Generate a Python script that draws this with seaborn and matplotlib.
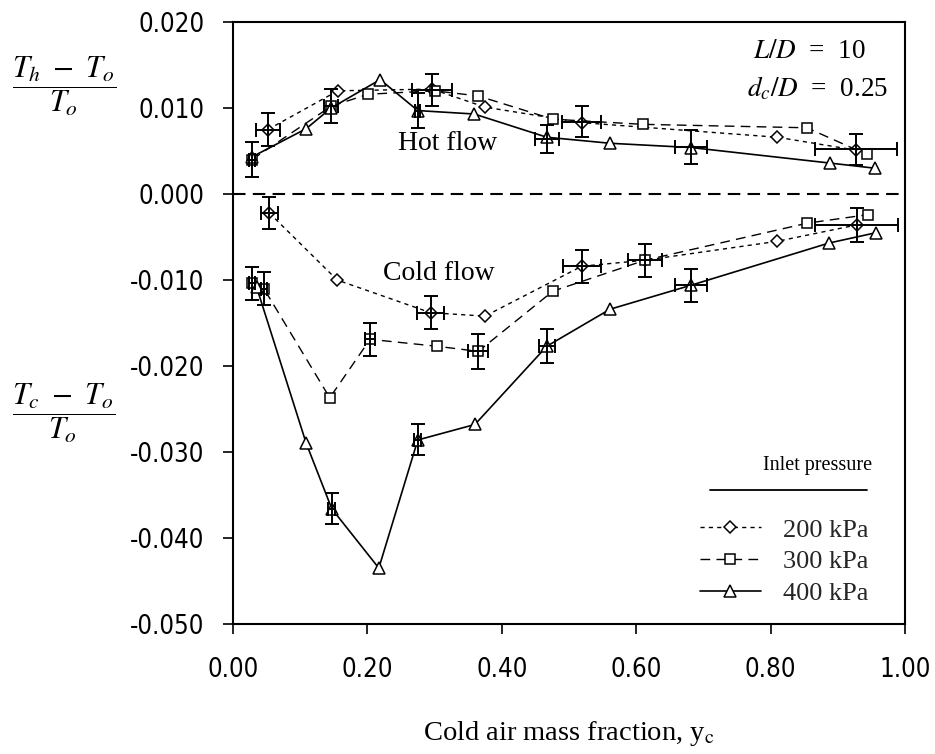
import numpy as np
import pandas as pd
import matplotlib
matplotlib.use("Agg")
import matplotlib.pyplot as plt
import seaborn as sns
from matplotlib.lines import Line2D

# ---------------- data ----------------
pressures = ["200 kPa", "300 kPa", "400 kPa"]

hot_200_x = [0.052, 0.156, 0.296, 0.375, 0.519, 0.810, 0.927]
hot_200_y = [0.0075, 0.0120, 0.0122, 0.0101, 0.0083, 0.0066, 0.0051]
hot_300_x = [0.028, 0.146, 0.201, 0.300, 0.365, 0.476, 0.610, 0.854, 0.943]
hot_300_y = [0.0040, 0.0102, 0.0116, 0.0120, 0.0114, 0.0087, 0.0081, 0.0077, 0.0046]
hot_400_x = [0.028, 0.109, 0.146, 0.219, 0.275, 0.359, 0.467, 0.561, 0.682, 0.888, 0.955]
hot_400_y = [0.0043, 0.0076, 0.0100, 0.0133, 0.0097, 0.0093, 0.0066, 0.0059, 0.0054, 0.0036, 0.0030]

cold_200_x = [0.054, 0.155, 0.294, 0.375, 0.519, 0.613, 0.810, 0.928]
cold_200_y = [-0.0022, -0.0100, -0.0138, -0.0142, -0.0084, -0.0077, -0.0055, -0.0036]
cold_300_x = [0.028, 0.046, 0.144, 0.204, 0.303, 0.365, 0.476, 0.613, 0.854, 0.945]
cold_300_y = [-0.0104, -0.0110, -0.0237, -0.0169, -0.0177, -0.0183, -0.0113, -0.0077, -0.0034, -0.0024]
cold_400_x = [0.035, 0.109, 0.147, 0.217, 0.275, 0.360, 0.467, 0.561, 0.682, 0.887, 0.957]
cold_400_y = [-0.0108, -0.0290, -0.0366, -0.0435, -0.0286, -0.0268, -0.0177, -0.0134, -0.0106, -0.0057, -0.0045]

# error-bar points: x, y, x-uncertainty, y-uncertainty
err_x = [0.028, 0.052, 0.146, 0.275, 0.296, 0.467, 0.519, 0.682, 0.927,
         0.028, 0.046, 0.054, 0.147, 0.204, 0.275, 0.294, 0.365, 0.467, 0.519, 0.613, 0.682, 0.928]
err_y = [0.0040, 0.0075, 0.0102, 0.0097, 0.0121, 0.0064, 0.0084, 0.0055, 0.0052,
         -0.0104, -0.0110, -0.0022, -0.0366, -0.0169, -0.0286, -0.0138, -0.0183, -0.0177,
         -0.0084, -0.0077, -0.0106, -0.0036]
err_xe = [0.004, 0.018, 0.010, 0.004, 0.030, 0.018, 0.029, 0.024, 0.061,
          0.004, 0.004, 0.013, 0.005, 0.008, 0.005, 0.020, 0.015, 0.012, 0.028, 0.025, 0.024, 0.062]
err_ye = [0.0020, 0.0019, 0.0020, 0.0020, 0.0019, 0.0016, 0.0018, 0.0020, 0.0018,
          0.0019, 0.0019, 0.0019, 0.0018, 0.0019, 0.0018, 0.0019, 0.0020, 0.0020,
          0.0019, 0.0019, 0.0019, 0.0020]

xtick_vals = [0.0, 0.2, 0.4, 0.6, 0.8, 1.0]
xtick_labels = ["0.00", "0.20", "0.40", "0.60", "0.80", "1.00"]
ytick_vals = [-0.05, -0.04, -0.03, -0.02, -0.01, 0.0, 0.01, 0.02]
ytick_labels = ["-0.050", "-0.040", "-0.030", "-0.020", "-0.010", "0.000", "0.010", "0.020"]

series = [
    ("200 kPa", "hot", hot_200_x, hot_200_y),
    ("300 kPa", "hot", hot_300_x, hot_300_y),
    ("400 kPa", "hot", hot_400_x, hot_400_y),
    ("200 kPa", "cold", cold_200_x, cold_200_y),
    ("300 kPa", "cold", cold_300_x, cold_300_y),
    ("400 kPa", "cold", cold_400_x, cold_400_y),
]
rows = []
for p, flow, xs, ys in series:
    for xv, yv in zip(xs, ys):
        rows.append({"x": xv, "y": yv, "pressure": p, "flow": flow})
df = pd.DataFrame(rows)

# ---------------- style ----------------
sns.set_theme(style="ticks")
plt.rcParams["font.family"] = ["Liberation Serif", "DejaVu Serif"]
plt.rcParams["mathtext.fontset"] = "stix"
plt.rcParams["axes.unicode_minus"] = False

styles = {
    "200 kPa": dict(marker="D", ms=6.0, ls=(0, (3, 3)), lw=1.0),
    "300 kPa": dict(marker="s", ms=6.5, ls=(0, (7, 4.5)), lw=1.0),
    "400 kPa": dict(marker="^", ms=8.0, ls="-", lw=1.2),
}

fig = plt.figure(figsize=(9.35, 7.54), dpi=100)
ax = fig.add_axes([233 / 935, 1 - 624 / 754, (905 - 233) / 935, (624 - 22) / 754])

for p in pressures:
    st = styles[p]
    sub = df[df["pressure"] == p]
    sns.lineplot(data=sub, x="x", y="y", units="flow", estimator=None, sort=False,
                 color="black", marker=st["marker"], markersize=st["ms"],
                 linestyle=st["ls"], linewidth=st["lw"],
                 mfc="white", mec="black", mew=1.1, ax=ax, legend=False, zorder=3)

ax.errorbar(err_x, err_y, xerr=err_xe, yerr=err_ye, fmt="none", ecolor="black",
            elinewidth=1.4, capsize=5, capthick=1.4, zorder=4)

ax.axhline(0.0, color="black", lw=1.5, ls=(0, (6, 3.5)), zorder=2)

ax.set_xlim(0, 1.0)
ax.set_ylim(-0.05, 0.02)
ax.set_xticks(xtick_vals)
ax.set_yticks(ytick_vals)
tick_font = dict(family=["DejaVu Sans"], size=18.5, stretch="condensed")
ax.set_xticklabels(xtick_labels, fontdict=tick_font)
ax.set_yticklabels(ytick_labels, fontdict=tick_font)
ax.tick_params(axis="both", direction="out", length=7.5, width=1.2, color="black",
               labelcolor="black")
ax.tick_params(axis="y", pad=13)
ax.tick_params(axis="x", pad=16)
for sp in ax.spines.values():
    sp.set_visible(True)
    sp.set_color("black")
    sp.set_linewidth(1.5)

ax.set_xlabel(r"Cold air mass fraction, y$_{\mathrm{c}}$", fontsize=20.5, color="black", labelpad=26)
ax.set_ylabel("")

# annotations
ax.text(0.32, 0.0059, "Hot flow", fontsize=20, ha="center", va="center", color="black")
ax.text(0.306, -0.0093, "Cold flow", fontsize=20, ha="center", va="center", color="black")
ax.text(0.774, 0.0166, r"$L/D$  =  10", fontsize=19.5, ha="left", va="center", color="black")
ax.text(0.765, 0.0122, r"$d_c/D$  =  0.25", fontsize=19.5, ha="left", va="center", color="black")

# y-axis fraction labels
fig.text(64 / 935, 1 - 86 / 754, r"$\dfrac{T_h\ -\ T_o}{T_o}$", fontsize=22,
         ha="center", va="center", color="black")
fig.text(64 / 935, 1 - 413 / 754, r"$\dfrac{T_c\ -\ T_o}{T_o}$", fontsize=22,
         ha="center", va="center", color="black")

# legend
ax.text(0.870, 0.264, "Inlet pressure", transform=ax.transAxes, fontsize=14.5,
        ha="center", va="center", color="black")
ax.plot([0.710, 0.943], [0.2226, 0.2226], transform=ax.transAxes, color="black", lw=1.3)
handles = [Line2D([], [], color="black", marker=styles[p]["marker"], markersize=styles[p]["ms"],
                  linestyle=styles[p]["ls"], linewidth=styles[p]["lw"], mfc="white",
                  mec="black", mew=1.1) for p in pressures]
ax.legend(handles, pressures, loc="upper left", bbox_to_anchor=(0.695, 0.176),
          frameon=False, fontsize=19, handlelength=2.3, handletextpad=0.85,
          labelspacing=0.31, borderaxespad=0, borderpad=0, numpoints=1)

fig.savefig("out.png", dpi=100)
